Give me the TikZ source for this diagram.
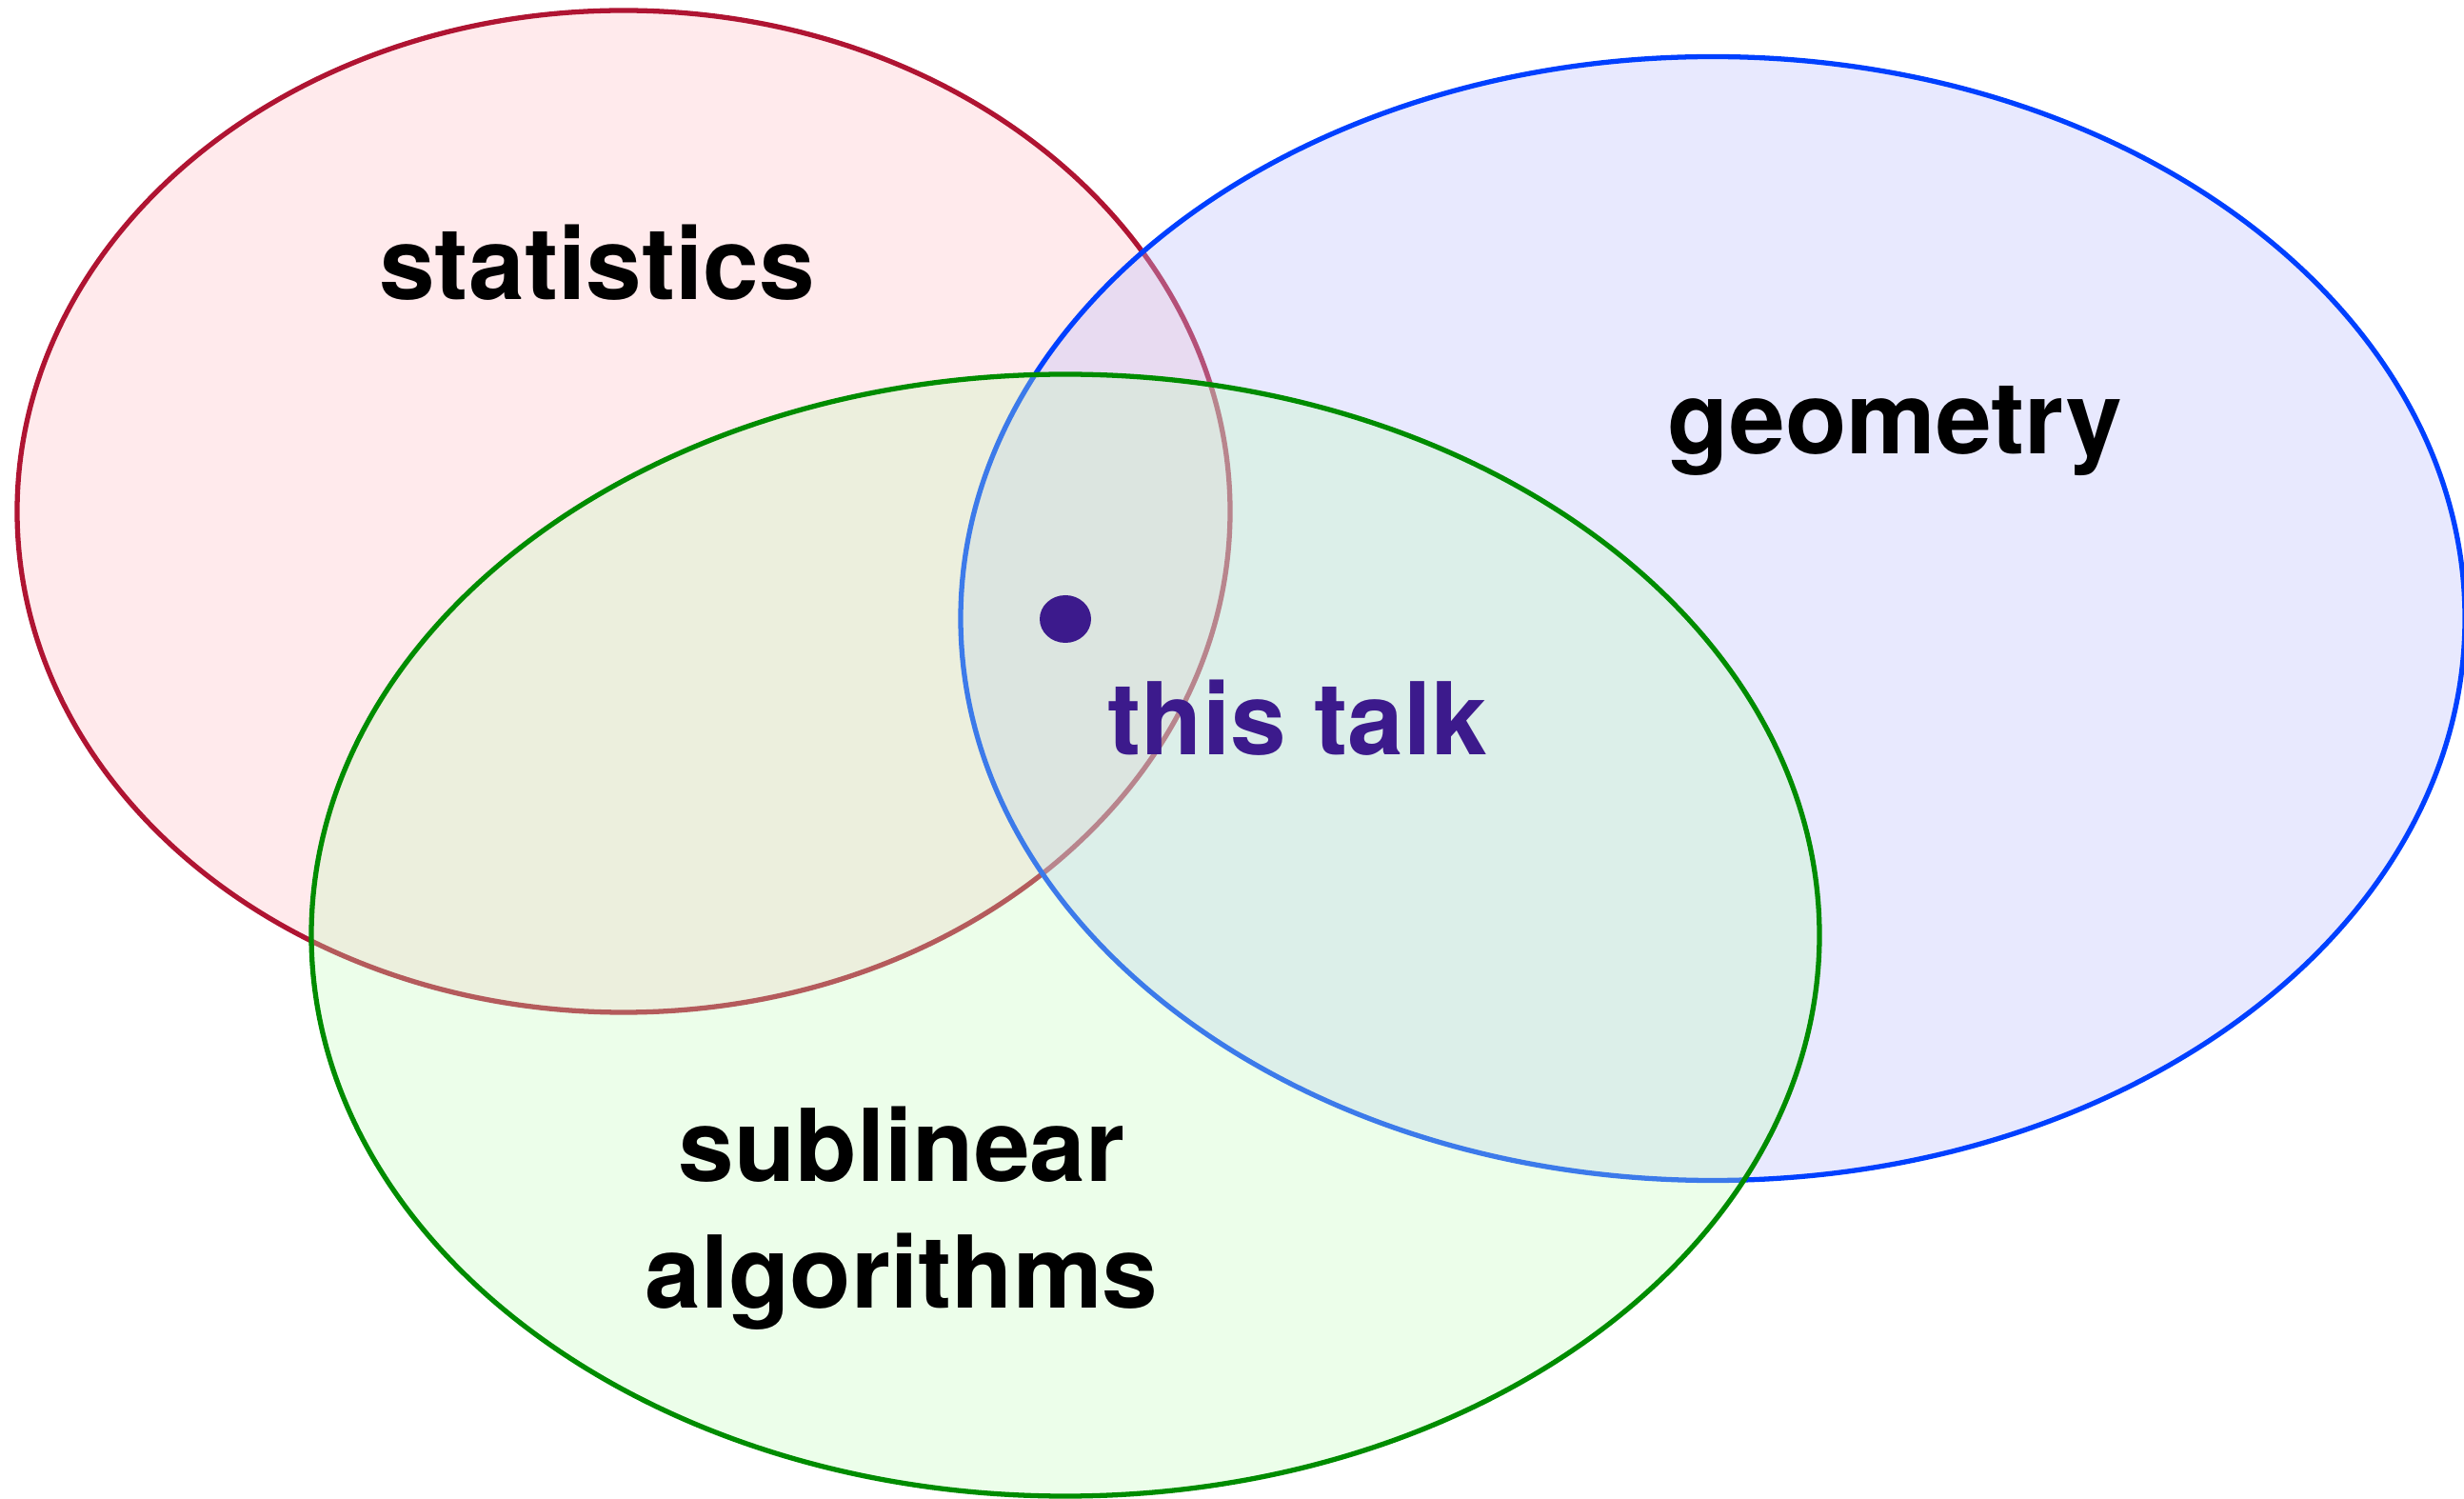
\documentclass[tikz,border=0pt]{standalone}
\usepackage{fontspec}
\setmainfont{TeX Gyre Heros}
\usepackage{tikz}

\definecolor{statfill}{RGB}{255,234,236}
\definecolor{statline}{RGB}{175,20,50}
\definecolor{geofill}{RGB}{190,192,252}
\definecolor{geoline}{RGB}{0,64,255}
\definecolor{subfill}{RGB}{194,252,188}
\definecolor{subline}{RGB}{0,140,0}
\definecolor{talkcol}{RGB}{60,26,140}

\tikzset{
  field/.style={font=\fontsize{30}{37.5}\selectfont\bfseries, anchor=base, inner sep=0pt},
}

\begin{document}
\begin{tikzpicture}
  \useasboundingbox (0,0) rectangle (25.88,-15.74);
  % the three fields
  \foreach \cx/\cy/\rx/\ry/\fc/\op/\lc in {6.55/-5.37/6.37/5.26/statfill/1/statline,
      17.99/-6.495/7.90/5.90/geofill/0.35/geoline,
      11.19/-9.82/7.92/5.89/subfill/0.31/subline} {
    \fill[\fc, fill opacity=\op] (\cx,\cy) ellipse ({\rx} and {\ry});
    \draw[\lc, line width=1.5pt] (\cx,\cy) ellipse ({\rx} and {\ry});
  }
  \fill[talkcol] (11.19,-6.50) ellipse (0.27 and 0.25);
  \node[field] (stat) at (6.27,-3.15) {statistics};
  \node[field] (geo) at (19.90,-4.77) {geometry};
  \node[field, text=talkcol] (talk) at (13.63,-7.93) {this talk};
  \node[field] (sublin) at (9.47,-12.41) {sublinear};
  \node[field] (algo) at (9.47,-13.73) {algorithms};
\end{tikzpicture}
\end{document}
